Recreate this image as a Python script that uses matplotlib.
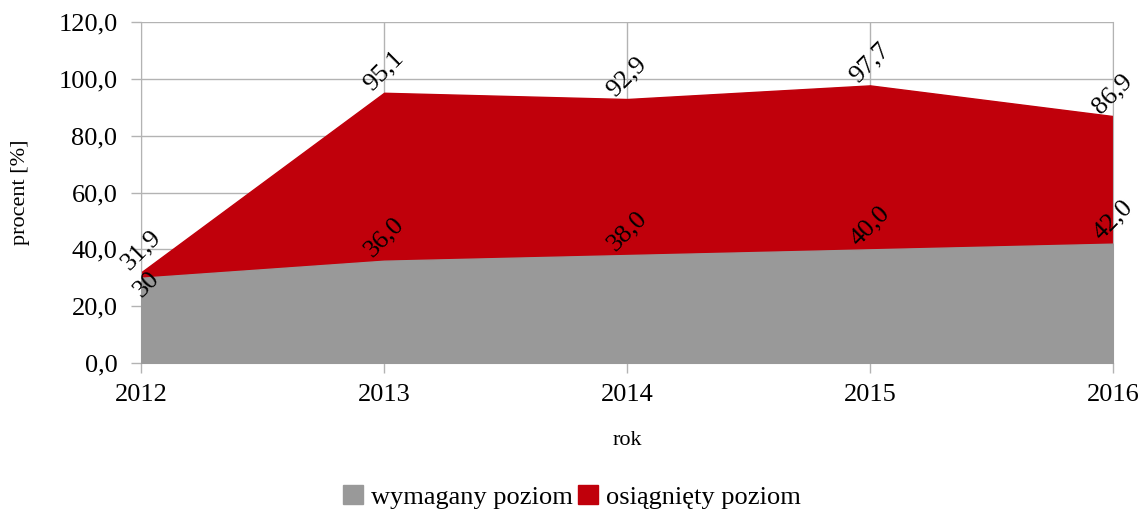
import matplotlib.pyplot as plt

plt.rcParams['font.family'] = ['Liberation Serif', 'DejaVu Serif']

years = [2012, 2013, 2014, 2015, 2016]
wymagany = [30.0, 36.0, 38.0, 40.0, 42.0]
osiagniety = [31.9, 95.1, 92.9, 97.7, 86.9]
wym_labels = ["30", "36,0", "38,0", "40,0", "42,0"]
osi_labels = ["31,9", "95,1", "92,9", "97,7", "86,9"]

fig = plt.figure(figsize=(11.44, 5.12), dpi=100)
ax = fig.add_axes([0.1233, 0.291, 0.8496, 0.666])

ax.fill_between(years, osiagniety, color="#c0000b", label="osiągnięty poziom", zorder=2)
ax.fill_between(years, wymagany, color="#999999", label="wymagany poziom", zorder=3)

# data labels (rotated, placed above the point)
lab_kw = dict(rotation=45, ha="center", va="center", fontsize=19, zorder=5,
              rotation_mode="anchor", textcoords="offset points")
for i, (x, y) in enumerate(zip(years, osiagniety)):
    ax.annotate(osi_labels[i], (x, y), xytext=(0, 16), **lab_kw)
for i, (x, y) in enumerate(zip(years, wymagany)):
    if i == 0:
        ax.annotate(wym_labels[i], (x, y), xytext=(4, -5), **lab_kw)
    else:
        ax.annotate(wym_labels[i], (x, y), xytext=(0, 17), **lab_kw)

ax.set_xlim(2012, 2016)
ax.set_ylim(0, 120)
ax.set_xticks(years)
ax.set_xticklabels([str(y) for y in years], fontsize=19)
ax.set_yticks(range(0, 121, 20))
ax.set_yticklabels([f"{v},0" for v in range(0, 121, 20)], fontsize=19)
ax.grid(True, color="#b3b3b3", linewidth=1, zorder=0)
ax.set_axisbelow(True)
ax.spines["top"].set_visible(False)
for s in ["left", "right", "bottom"]:
    ax.spines[s].set_color("#b3b3b3")
ax.tick_params(axis="both", color="#b3b3b3", length=7, width=1)
ax.tick_params(axis="x", pad=8)
ax.tick_params(axis="y", pad=10)

ax.set_xlabel("rok", fontsize=16, labelpad=18)
ax.set_ylabel("procent [%]", fontsize=16, labelpad=20)

handles, labels = ax.get_legend_handles_labels()
fig.legend(handles[::-1], labels[::-1], loc="lower center", bbox_to_anchor=(0.5, -0.04),
           ncol=2, frameon=False, fontsize=19, handlelength=0.75, handleheight=0.75,
           handletextpad=0.3, columnspacing=0.2)

fig.savefig("out.png", dpi=100)
